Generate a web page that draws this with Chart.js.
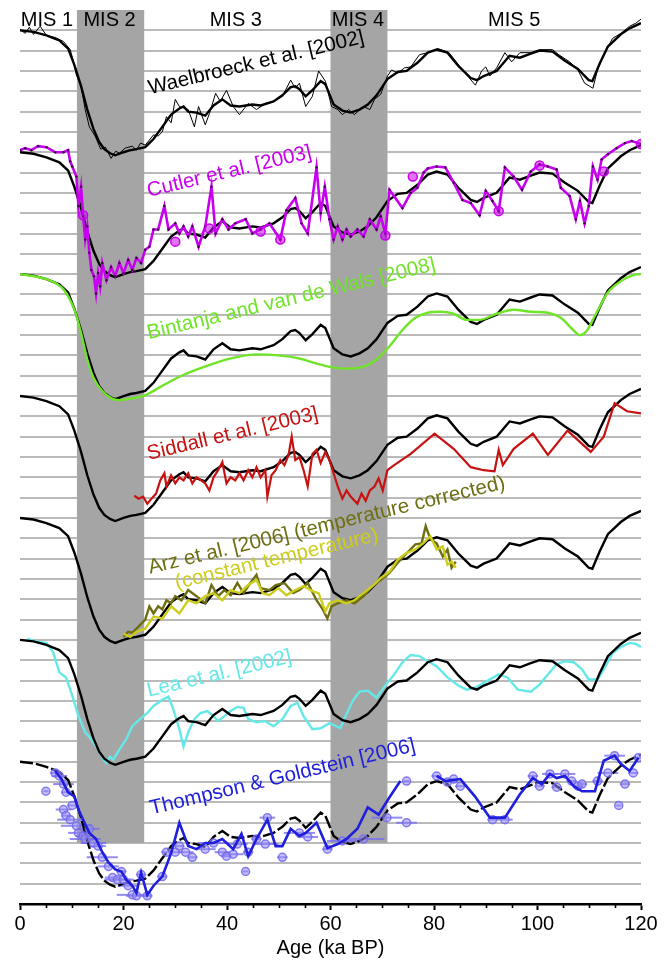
<!DOCTYPE html>
<html>
<head>
<meta charset="utf-8">
<title>Sea-level reconstructions, last 120 ka</title>
<style>
  html, body { margin: 0; padding: 0; background: #ffffff; }
  #wrap { width: 671px; height: 962px; position: relative; }
</style>
<script src="https://cdn.jsdelivr.net/npm/chart.js@4.4.1/dist/chart.umd.min.js"></script>
</head>
<body>
<div id="wrap"><canvas id="c" width="671" height="962"></canvas></div>
<script>
// ---- Data: relative sea level (m) against age (ka BP) ----

// Waelbroeck et al. [2002], smoothed reference curve (repeated in every panel)
const refAge = [0, 2.6, 5.1, 7.6, 9.3, 10.5, 11.8, 13, 14.2, 15.3, 16.3, 17.4, 18.4, 20, 21.3, 22.5, 24.2, 25.8, 27.5, 29.2, 30.8, 31.6, 32.5, 34.1, 35.8, 37.4, 39.1, 40.7, 42.4, 44.9, 46.5, 49, 50.7, 52.3, 53.2, 54, 55.2, 56.5, 58.1, 59, 60.6, 62.3, 63.9, 65.6, 67.2, 68.9, 71, 73, 74.7, 76.8, 78.8, 80.5, 82.6, 84.7, 87.1, 88.3, 89.6, 92.1, 94.6, 96.6, 98.7, 100.4, 102.9, 105.3, 107.8, 109.9, 110.6, 112, 113.6, 116.1, 117.8, 120];
const refSea = [0, -1.5, -5, -10, -18, -34, -55, -78, -97, -110, -117, -121, -123, -120, -118, -117, -115, -107, -95, -83, -77, -75, -80, -81, -84, -74, -68, -74, -75, -73, -74, -70, -64, -56, -55, -58, -65, -59, -50, -53, -73, -79, -81, -78, -73, -64, -48, -41, -40, -32, -22, -19, -22, -35, -47, -49, -45, -40, -25, -27, -23, -20, -21, -30, -38, -49, -50, -33, -16, -4, 2, 7];

// Waelbroeck et al. [2002], unsmoothed
const rawAge = [0, 1, 1.8, 2.6, 3.9, 5.1, 6.8, 8.4, 9.7, 10.3, 10.9, 11.8, 12.6, 13.4, 14.5, 15.6, 16.5, 17.6, 18.5, 19.2, 20.3, 21.7, 22.5, 23.3, 24.2, 25, 25.8, 26.7, 27.5, 28.3, 29.2, 30, 30.8, 32.5, 33.7, 34.5, 35.8, 36.6, 37.8, 38.7, 39.9, 41.2, 42.4, 44.1, 45.7, 47.4, 49, 50.7, 52.3, 53.2, 54, 55.2, 56.5, 57.7, 59, 60.2, 61.4, 62.3, 63.5, 64.6, 66.4, 67.6, 68.5, 69.7, 71, 71.8, 73, 74.3, 75.5, 77.2, 78.8, 80.8, 82.9, 85.5, 88, 89.2, 90, 90.8, 92.1, 93.7, 95, 96.6, 98.7, 100.4, 102.9, 104.1, 106.2, 107.8, 109.1, 110.7, 111.6, 112.8, 114.5, 116.1, 117.8, 119, 120];
const rawSea = [1, -3, 3, -4, 4, -5, -7, -11, -19, -30, -44, -55, -78, -95, -104, -117, -115, -126, -119, -121, -116, -114, -118, -111, -113, -108, -103, -104, -100, -85, -91, -68, -75, -78, -95, -75, -93, -82, -62, -70, -59, -75, -83, -72, -78, -72, -70, -65, -49, -57, -52, -75, -65, -40, -50, -75, -78, -83, -78, -83, -75, -78, -68, -63, -45, -39, -42, -37, -36, -24, -22, -18, -22, -39, -54, -40, -36, -45, -37, -22, -31, -22, -22, -19, -19, -24, -31, -39, -52, -57, -39, -24, -8, -3, 4, 7, 11];

// Cutler et al. [2003]
const cutlerAge = [0, 1, 2.2, 3.5, 5.1, 6.8, 8.4, 9.3, 9.7, 10.1, 10.9, 11.3, 11.8, 12.2, 12.6, 13, 13.4, 13.8, 14.3, 14.7, 15.1, 15.5, 15.9, 16.7, 17.6, 18.4, 19.2, 20, 20.9, 21.7, 22.5, 23.4, 24.2, 25, 25.8, 26.7, 27.9, 28.7, 30, 30.8, 31.6, 32.5, 33.3, 34.5, 35.8, 37, 37.8, 39.1, 40.3, 41.6, 43.6, 44.9, 46.5, 48.2, 50.3, 51.5, 53.2, 54.4, 55.6, 57.3, 58.1, 58.9, 59.8, 60.6, 61.4, 62.3, 63.1, 63.9, 65.2, 66.4, 67.6, 68.9, 69.7, 70.6, 71.4, 73.9, 75.5, 76.8, 78, 78.8, 80.5, 82.2, 83.8, 85.5, 87.1, 88.8, 90, 91.3, 92.5, 93.7, 95.4, 97, 98.7, 100.4, 102, 103.7, 104.5, 106.2, 107.4, 108.2, 109.1, 109.9, 110.7, 111.6, 112.4, 113.6, 115.3, 116.9, 118.2, 120];
const cutlerSea = [2, 4, 2, 6, 5, 0, 0, 2, -9, -14, -24, -53, -34, -63, -86, -73, -99, -116, -122, -139, -119, -132, -109, -126, -113, -122, -109, -119, -106, -116, -104, -109, -96, -93, -76, -76, -53, -76, -70, -80, -73, -83, -73, -93, -73, -34, -80, -66, -76, -70, -66, -80, -76, -70, -86, -57, -45, -70, -80, -15, -60, -34, -66, -86, -73, -86, -76, -83, -76, -83, -66, -76, -63, -80, -37, -55, -40, -35, -20, -16, -14, -15, -30, -47, -50, -62, -38, -48, -58, -15, -24, -37, -19, -12, -14, -17, -35, -43, -66, -48, -70, -53, -14, -27, -7, -2, 4, 9, 11, 8];
const cutlerCoralAge = [12.2, 30, 36.6, 46.5, 50.3, 70.6, 75.9, 92.5, 100.4, 112.8, 120];
const cutlerCoralSea = [-62, -88, -75, -78, -86, -82, -24, -58, -13, -19, 8];

// Bintanja and van de Wal [2008]
const bintanjaAge = [0, 5.1, 8.4, 10.5, 11.8, 13, 14.2, 15.9, 17.6, 19.2, 20.9, 24.2, 27.5, 30.8, 34.1, 37.4, 41.6, 45.7, 49.9, 54, 57.3, 60.6, 63.1, 66.4, 68.9, 71.4, 73.9, 76.4, 78.8, 81.3, 83.8, 86.3, 88.8, 92.1, 95.4, 98.7, 102, 104.5, 106.9, 108.2, 109.5, 111.1, 113.6, 116.1, 118.5, 120];
const bintanjaSea = [0, -5, -15, -35, -58, -84, -102, -115, -122, -124, -123, -119, -110, -101, -94, -88, -82, -79, -80, -83, -88, -92, -93, -91, -84, -71, -55, -43, -38, -37, -39, -45, -45, -39, -35, -37, -38, -43, -55, -60, -56, -41, -18, -7, -1, 0];

// Siddall et al. [2003]
const siddallAge = [22.1, 22.9, 23.8, 24.6, 25.4, 26.3, 27.1, 27.9, 28.3, 29.2, 30, 30.8, 31.6, 32.5, 33.3, 34.1, 35, 35.8, 36.6, 37.4, 38.3, 39.1, 39.9, 40.7, 41.6, 42.4, 43.2, 44.1, 44.9, 45.7, 46.5, 47.4, 47.8, 48.6, 49.4, 50.3, 51.1, 51.9, 52.5, 53.2, 54, 54.8, 55.6, 56.5, 57.3, 58.1, 59, 59.8, 60.6, 61.4, 62.3, 63.1, 63.9, 65.2, 66, 66.8, 67.6, 68.5, 69.3, 70.1, 71, 72.3, 75.5, 80.1, 83.8, 87.1, 89.6, 91.7, 92.5, 93.3, 95.4, 99.1, 102, 105.8, 110.3, 112.8, 114.9, 117.3, 120];
const siddallSea = [-98, -101, -99, -106, -101, -96, -83, -76, -89, -78, -86, -80, -83, -76, -86, -80, -83, -86, -93, -80, -73, -65, -86, -80, -83, -76, -83, -73, -80, -70, -80, -73, -99, -78, -73, -63, -68, -58, -40, -63, -60, -73, -89, -57, -53, -66, -55, -63, -76, -89, -101, -93, -99, -106, -96, -103, -93, -89, -81, -93, -73, -68, -57, -37, -52, -70, -73, -74, -53, -68, -52, -37, -58, -34, -55, -40, -7, -15, -17];

// Arz et al. [2006], temperature corrected
const arzTAge = [20, 20.9, 21.7, 22.9, 24.2, 25, 25.8, 26.7, 27.5, 28.3, 29.2, 30, 31.2, 32.5, 34.1, 35.8, 37, 38.3, 39.5, 40.7, 42, 43.2, 44.5, 45.7, 46.5, 48.2, 49.4, 51.1, 52.8, 54, 55.6, 57.3, 58.5, 59.4, 60.2, 61.4, 63.1, 64.6, 66.4, 68.1, 69.7, 71.4, 73, 74.5, 76.4, 77.6, 78.4, 79.3, 80.5, 81.7, 82.6, 83.4, 84.2];
const arzTSea = [-117, -112, -113, -107, -100, -87, -94, -87, -90, -81, -84, -77, -81, -71, -77, -84, -66, -77, -71, -76, -64, -74, -64, -56, -69, -71, -66, -64, -74, -71, -64, -81, -90, -99, -87, -84, -81, -84, -77, -67, -61, -54, -44, -36, -26, -25, -8, -21, -25, -38, -31, -49, -43];

// Arz et al. [2006], constant temperature
const arzCAge = [20, 21.3, 22.5, 24.2, 25.8, 27.5, 29.2, 30.8, 32.5, 34.1, 35.8, 37.4, 39.1, 40.7, 42.4, 44.1, 45.7, 46.9, 48.2, 49.9, 51.5, 53.2, 54.8, 56.5, 57.7, 59, 59.8, 61.4, 63.1, 64.6, 66.4, 68.1, 69.7, 71.4, 73, 74.5, 76.4, 77.9, 79.3, 80.5, 81.7, 82.6, 83.4, 84.2];
const arzCSea = [-114, -117, -112, -109, -97, -99, -87, -94, -81, -84, -77, -74, -81, -71, -74, -66, -61, -74, -76, -69, -76, -71, -67, -72, -74, -92, -84, -81, -84, -81, -74, -67, -59, -53, -41, -35, -31, -25, -18, -31, -28, -46, -43, -49];

// Lea et al. [2002]
const leaAge = [1.4, 3.5, 5.1, 6.4, 7.6, 8.9, 10.1, 11.3, 12.6, 13.8, 15.1, 16.3, 16.7, 17.4, 18, 19.2, 20.5, 21.7, 23.4, 24.6, 25.8, 27.5, 28.7, 29.6, 30.8, 31.6, 32.5, 33.7, 34.9, 36.2, 37.4, 38.3, 39.5, 40.7, 42, 43.2, 44.1, 45.7, 47.4, 49, 50.7, 52.3, 53.6, 54.8, 56.5, 58.1, 59.8, 61.9, 63.1, 64.3, 65.6, 67.2, 68.9, 70.6, 72.3, 73.9, 75.5, 77.2, 78.8, 80.5, 82.6, 84.7, 86.3, 88, 90.4, 92.5, 94.2, 96.2, 98.7, 100.4, 102, 103.7, 105.3, 107, 108.6, 109.9, 111.6, 112.8, 114.5, 116.1, 117.8, 119, 120];
const leaSea = [1, -2, -3, -12, -32, -37, -55, -75, -91, -98, -108, -119, -121, -115, -118, -108, -98, -85, -77, -72, -65, -59, -56, -68, -88, -105, -91, -78, -72, -70, -75, -80, -75, -70, -66, -67, -78, -81, -80, -85, -78, -65, -62, -75, -88, -87, -82, -87, -73, -60, -51, -50, -57, -45, -34, -22, -15, -16, -21, -26, -37, -45, -49, -47, -40, -34, -37, -49, -51, -44, -34, -24, -21, -22, -29, -39, -39, -29, -13, -7, -3, -4, -7];

// Thompson & Goldstein [2006]: curve (null = gap) and individual corals
const tgLineAge = [6.8, 8, 9.3, 10.5, 11.3, 12.2, 13.4, 14.7, 15.9, 17.1, 18.4, 19.6, 20.5, 21.7, 22.5, 23.4, 24.6, 25.8, 27.5, 29.2, 30.8, 32.5, 34.1, 35.8, 37.4, 39.1, 41.2, 42.8, 44.1, 45.7, 47.8, 49.4, 50.7, 52.3, 54, 55.2, 57.3, 59.4, 61.4, 63.1, 65.2, 67.2, 69.3, 71.4, 73.5, 77, 80.5, 82.2, 85.1, 87.9, 90.8, 93.7, 96.6, 99.1, 100.8, 102.4, 103.7, 105.3, 107, 108.6, 111.1, 112.8, 114.9, 116.1, 117.8, 119.5];
const tgLineSea = [-9, -17, -30, -34, -47, -57, -70, -76, -89, -99, -106, -108, -116, -122, -129, -109, -131, -122, -113, -90, -60, -83, -86, -80, -80, -76, -86, -71, -93, -76, -57, -83, -83, -66, -73, -70, -60, -85, -81, -76, -66, -45, -52, -35, -19, null, -14, -19, -17, -34, -55, -55, -32, -16, -22, -12, -16, -14, -24, -29, -29, 1, 6, -2, -9, 4];
const tgAge = [5, 6.8, 7.6, 8.4, 8.9, 8.4, 8.9, 9.7, 10.1, 10.9, 11.3, 12.2, 12.6, 13.4, 14.2, 15.1, 15.9, 17.1, 17.9, 18.8, 19.6, 20, 20.9, 21.7, 22.5, 23.4, 24.6, 27.5, 28.3, 30, 30.8, 32, 33.3, 35.8, 37.4, 39.1, 39.9, 41.2, 42, 43.6, 44.1, 45.7, 47.4, 47.8, 50.7, 54, 55.6, 59.4, 62.3, 66.4, 70.9, 74.7, 74.7, 80.5, 82.6, 83.8, 85.1, 91.3, 93.7, 99.1, 100.4, 102.4, 103.7, 105.3, 106.6, 107.8, 108.6, 111.6, 113.6, 114.9, 115.7, 116.9, 118.5, 119.5];
const tgSea = [-29, -11, -14, -22, -30, -47, -53, -57, -43, -63, -70, -73, -76, -66, -80, -83, -94, -103, -114, -116, -108, -116, -122, -131, -132, -111, -132, -113, -89, -89, -83, -89, -94, -86, -80, -89, -93, -91, -81, -108, -89, -76, -81, -55, -94, -70, -74, -86, -78, -76, -55, -19, -60, -14, -20, -17, -24, -57, -57, -14, -24, -12, -25, -12, -19, -24, -22, -19, -11, 6, -43, -22, -11, 4];
const tgErr = [0.5, 1, 1.5, 2, 1, 1.5, 1, 2.5, 1, 3, 2, 1.5, 3, 2, 2.5, 1.5, 3, 2, 1.5, 2.5, 1, 2, 2, 3, 2, 1, 1, 1, 1, 1.5, 1, 1.5, 1, 2, 3, 1.5, 1, 2, 2, 0.5, 1, 1, 2.5, 1.5, 1, 3, 2, 1, 3, 4, 3, 0.5, 2, 1, 2, 1, 1, 1, 1.5, 1, 1, 1.5, 1, 2, 1, 1, 1, 1, 2, 2, 0.5, 1, 1, 1];

// Axis ticks and marine isotope stages
const ageTicks = [0, 20, 40, 60, 80, 100, 120];
const misNames = ['MIS 1', 'MIS 2', 'MIS 3', 'MIS 4', 'MIS 5'];
const misLabelAge = [5.2, 17.3, 41.7, 65.3, 95.5];
const misShaded = [[11, 24], [60, 71]];

// ---- Layout of the stacked panels ----
const PANEL_STEP = 120;          // metres between successive panels
const Y_TOP = 20, Y_BOTTOM = -860;
const BAND_FLOOR = -800;
const FONT = '"Liberation Sans", Arial, Helvetica, sans-serif';

function series(ages, seas, panel) {
  return ages.map((a, i) => ({ x: a, y: seas[i] === null ? null : seas[i] - panel * PANEL_STEP }));
}

const COL = {
  cutler: 'rgb(200,0,240)',
  bintanja: 'rgb(112,228,40)',
  siddall: 'rgb(200,18,18)',
  arzT: 'rgb(110,110,18)',
  arzC: 'rgb(205,205,30)',
  lea: 'rgb(100,232,232)',
  tg: 'rgb(30,30,220)'
};

function line(label, data, color, width, order, extra) {
  return Object.assign({
    label, data, borderColor: color, backgroundColor: color,
    borderWidth: width, pointRadius: 0, tension: 0, fill: false,
    spanGaps: false, order
  }, extra || {});
}

const datasets = [];
// black reference curve in each of the seven panels
for (let p = 0; p < 7; p++) {
  datasets.push(line('Waelbroeck (smoothed) ' + (p + 1), series(refAge, refSea, p), '#000', 2.4, 5,
    p === 6 ? { borderDash: [13, 3] } : {}));
}
datasets.push(line('Waelbroeck et al. [2002]', series(rawAge, rawSea, 0), '#000', 1, 4));
datasets.push(line('Cutler et al. [2003]', series(cutlerAge, cutlerSea, 1), COL.cutler, 2.6, 3, {
  pointRadius: 1.2, pointBackgroundColor: '#3a0040', pointBorderWidth: 0
}));
datasets.push({
  label: 'Cutler corals', data: series(cutlerCoralAge, cutlerCoralSea, 1), showLine: false,
  pointRadius: 4.5, pointBackgroundColor: 'rgba(200,0,240,0.55)', pointBorderColor: COL.cutler,
  pointBorderWidth: 1.5, order: 1
});
datasets.push(line('Bintanja and van de Wals [2008]', series(bintanjaAge, bintanjaSea, 2), COL.bintanja, 2.4, 3,
  { cubicInterpolationMode: 'monotone' }));
datasets.push(line('Siddall et al. [2003]', series(siddallAge, siddallSea, 3), COL.siddall, 2.2, 3));
datasets.push(line('Arz et al. [2006] (temperature corrected)', series(arzTAge, arzTSea, 4), COL.arzT, 2.4, 3));
datasets.push(line('(constant temperature)', series(arzCAge, arzCSea, 4), COL.arzC, 2.4, 2));
datasets.push(line('Lea et al. [2002]', series(leaAge, leaSea, 5), COL.lea, 2.4, 6));
datasets.push(line('Thompson & Goldstein [2006]', series(tgLineAge, tgLineSea, 6), COL.tg, 2.6, 2));
datasets.push({
  label: 'Thompson & Goldstein corals', data: series(tgAge, tgSea, 6), showLine: false,
  pointRadius: 4, pointBackgroundColor: 'rgba(150,140,250,0.55)', pointBorderColor: 'rgba(115,105,235,0.85)',
  pointBorderWidth: 1.5, order: 3
});

// Text drawn along each panel, anchored in data coordinates
const panelLabels = [
  { text: 'Waelbroeck et al. [2002]', color: '#000', age: 25.1, sea: -63, panel: 0 },
  { text: 'Cutler et al. [2003]', color: COL.cutler, age: 24.9, sea: -44, panel: 1 },
  { text: 'Bintanja and van de Wals [2008]', color: COL.bintanja, age: 24.9, sea: -64, panel: 2 },
  { text: 'Siddall et al. [2003]', color: COL.siddall, age: 24.9, sea: -63, panel: 3 },
  { text: 'Arz et al. [2006] (temperature corrected)', color: COL.arzT, age: 25.1, sea: -55, panel: 4 },
  { text: '(constant temperature)', color: COL.arzC, age: 30.3, sea: -70, panel: 4 },
  { text: 'Lea et al. [2002]', color: COL.lea, age: 24.9, sea: -56, panel: 5 },
  { text: 'Thompson & Goldstein [2006]', color: COL.tg, age: 25.4, sea: -52, panel: 6 }
];
const LABEL_ANGLE = -13.5 * Math.PI / 180;

const decorations = {
  id: 'decorations',
  beforeDatasetsDraw(chart) {
    const { ctx, scales: { x, y } } = chart;
    ctx.save();
    // shaded glacial stages
    ctx.fillStyle = '#a5a5a5';
    misShaded.forEach(([s, e]) => {
      const x0 = x.getPixelForValue(s), x1 = x.getPixelForValue(e);
      const y0 = y.getPixelForValue(Y_TOP), y1 = y.getPixelForValue(BAND_FLOOR);
      ctx.fillRect(x0, y0, x1 - x0, y1 - y0);
    });
    // horizontal age uncertainty of the Thompson & Goldstein corals
    ctx.strokeStyle = 'rgba(120,110,240,0.8)';
    ctx.lineWidth = 2;
    tgAge.forEach((a, i) => {
      const py = y.getPixelForValue(tgSea[i] - 6 * PANEL_STEP);
      ctx.beginPath();
      ctx.moveTo(x.getPixelForValue(Math.max(0, a - tgErr[i])), py);
      ctx.lineTo(x.getPixelForValue(Math.min(120, a + tgErr[i])), py);
      ctx.stroke();
    });
    ctx.restore();
  },
  afterDraw(chart) {
    const { ctx, chartArea: area, scales: { x, y } } = chart;
    ctx.save();
    // minor ticks every 5 ka
    ctx.strokeStyle = '#000';
    ctx.lineWidth = 1.6;
    for (let a = 5; a < 120; a += 5) {
      if (a % 20 === 0) continue;
      const px = Math.round(x.getPixelForValue(a)) + 0.5;
      ctx.beginPath();
      ctx.moveTo(px, area.bottom);
      ctx.lineTo(px, area.bottom + 4);
      ctx.stroke();
    }
    // stage names along the top
    ctx.font = '20px ' + FONT;
    ctx.fillStyle = '#000';
    ctx.textAlign = 'center';
    ctx.textBaseline = 'alphabetic';
    misNames.forEach((n, i) => ctx.fillText(n, x.getPixelForValue(misLabelAge[i]), area.top + 16));
    // series names, slanted
    ctx.font = '20.6px ' + FONT;
    ctx.textAlign = 'left';
    panelLabels.forEach(l => {
      ctx.save();
      ctx.translate(x.getPixelForValue(l.age), y.getPixelForValue(l.sea - l.panel * PANEL_STEP));
      ctx.rotate(LABEL_ANGLE);
      ctx.fillStyle = l.color;
      ctx.fillText(l.text, 0, 0);
      ctx.restore();
    });
    ctx.restore();
  }
};

new Chart(document.getElementById('c'), {
  type: 'line',
  data: { datasets },
  plugins: [decorations],
  options: {
    responsive: false,
    devicePixelRatio: 1,
    animation: false,
    events: [],
    layout: { padding: { left: 20, right: 30, top: 10, bottom: 0 } },
    plugins: { legend: { display: false }, tooltip: { enabled: false }, title: { display: false } },
    scales: {
      x: {
        type: 'linear', position: 'bottom', min: 0, max: 120,
        afterFit(s) { s.height = 58; },
        afterBuildTicks(s) { s.ticks = ageTicks.map(v => ({ value: v })); },
        ticks: { color: '#000', font: { family: FONT, size: 20 }, padding: 2, maxRotation: 0,
          callback: v => String(v) },
        grid: { display: true, drawOnChartArea: false, drawTicks: true, tickLength: 6,
          tickWidth: 2, tickColor: '#000' },
        border: { display: true, color: '#000', width: 2.5 },
        title: { display: true, text: 'Age (ka BP)', color: '#000',
          font: { family: FONT, size: 20 }, padding: { top: 0, bottom: 2 } }
      },
      y: {
        type: 'linear', min: Y_BOTTOM, max: Y_TOP,
        afterFit(s) { s.width = 0; },
        ticks: { display: false, stepSize: 20, maxTicksLimit: 100 },
        grid: {
          drawTicks: false, lineWidth: 2,
          color: c => (c.tick && (c.tick.value <= Y_BOTTOM || c.tick.value >= Y_TOP)) ? 'rgba(0,0,0,0)' : '#bababa'
        },
        border: { display: false }
      }
    }
  }
});
</script>
</body>
</html>
